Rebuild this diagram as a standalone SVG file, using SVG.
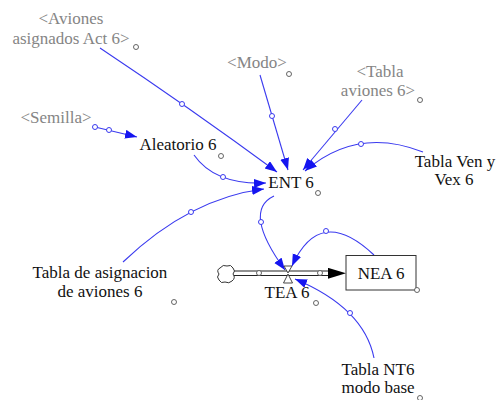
<svg xmlns="http://www.w3.org/2000/svg" width="496" height="400" viewBox="0 0 496 400">
<defs>
<style>
.t{font-size:17px;text-anchor:middle;fill:#111}
.s{fill:#858585}
.c{fill:none;stroke:#3a3aef;stroke-width:1.1}
.h{fill:#fff;stroke:#555;stroke-width:0.9}
.hb{fill:#fff;stroke:#3a3aef;stroke-width:1}
</style>
<marker id="a" markerUnits="userSpaceOnUse" markerWidth="13" markerHeight="10" refX="12" refY="4.5" orient="auto">
<path d="M0,0 L12,4.5 L0,9 z" fill="#1515f0"/>
</marker>
<marker id="fa" markerUnits="userSpaceOnUse" markerWidth="19" markerHeight="12" refX="18" refY="5.5" orient="auto">
<path d="M0,0 L18,5.5 L0,11 z" fill="#000"/>
</marker>
</defs>
<rect width="496" height="400" fill="#fff"/>

<g id="connectors">
<path class="c" d="M100,48 Q190,108 277,172" marker-end="url(#a)"/>
<circle class="hb" cx="182" cy="104" r="2.5"/>
<path class="c" d="M260,75 L288,170" marker-end="url(#a)"/>
<circle class="hb" cx="272" cy="116" r="2.5"/>
<path class="c" d="M362,100 L303,170" marker-end="url(#a)"/>
<circle class="hb" cx="335" cy="129" r="2.5"/>
<path class="c" d="M423,152 Q357,126 305,171" marker-end="url(#a)"/>
<circle class="hb" cx="361" cy="144" r="2.5"/>
<path class="c" d="M95,127 L137,137" marker-end="url(#a)"/>
<circle class="hb" cx="95" cy="127" r="2.5"/>
<circle class="hb" cx="109" cy="130" r="2.5"/>
<path class="c" d="M194,155 Q215,185 266,183" marker-end="url(#a)"/>
<circle class="hb" cx="223" cy="177" r="2.5"/>
<path class="c" d="M123,262 Q190,198 264,189" marker-end="url(#a)"/>
<circle class="hb" cx="191" cy="212" r="2.5"/>
<path class="c" d="M274,196 Q242,211 285,270" marker-end="url(#a)"/>
<circle class="hb" cx="261" cy="222" r="2.5"/>
<path class="c" d="M374,255 Q320,204 292,266" marker-end="url(#a)"/>
<circle class="hb" cx="326" cy="231" r="2.5"/>
<path class="c" d="M374,358 Q364,308 295,279" marker-end="url(#a)"/>
<circle class="hb" cx="350" cy="313" r="2.5"/>
</g>

<g font-family="Liberation Serif, 'Times New Roman', 'DejaVu Serif', serif">
<g id="flow-TEA6">
<path d="M233,271 H329 M233,275.5 H329" stroke="#222" stroke-width="1.2" fill="none"/>
<path d="M320,273.3 L346,273.3" stroke="none" fill="none" marker-end="url(#fa)"/>
<circle class="h" cx="259" cy="273" r="2.5"/>
<circle class="h" cx="320" cy="273" r="2.5"/>
<path d="M284,266 L292,266 L288,273 z" fill="#fff" stroke="#333" stroke-width="0.9"/>
<path d="M288,274 L283.5,283 L292.5,283 z" fill="#fff" stroke="#333" stroke-width="0.9"/>
<text class="t" x="287" y="298">TEA 6</text>
<circle class="h" cx="316" cy="303" r="2.5"/>
</g>

<g id="cloud">
<path d="M220,268 q3,-4 7,-2 q4,-2 6,2 q3,3 0,6 q3,4 -1,7 q-3,3 -7,1 q-4,2 -6,-2 q-3,-3 0,-6 q-3,-4 1,-6 z" fill="#fff" stroke="#333" stroke-width="1"/>
</g>

<g id="NEA6">
<rect x="346" y="255.5" width="70" height="34.5" fill="#fff" stroke="#333" stroke-width="1"/>
<text class="t" x="381" y="279">NEA 6</text>
<circle class="h" cx="417" cy="290" r="2.5"/>
</g>

<g id="AvionesAsignados">
<text class="t s" x="71" y="24">&lt;Aviones</text>
<text class="t s" x="71" y="44">asignados Act 6&gt;</text>
<circle class="h" cx="136" cy="47" r="2.5"/>
</g>

<g id="Modo">
<text class="t s" x="257" y="68">&lt;Modo&gt;</text>
<circle class="h" cx="289" cy="74" r="2.5"/>
</g>

<g id="TablaAviones">
<text class="t s" x="380" y="77">&lt;Tabla</text>
<text class="t s" x="378" y="96">aviones 6&gt;</text>
<circle class="h" cx="420" cy="100" r="2.5"/>
</g>

<g id="Semilla">
<text class="t s" x="56" y="123">&lt;Semilla&gt;</text>
</g>

<g id="Aleatorio6">
<text class="t" x="178" y="150">Aleatorio 6</text>
<circle class="h" cx="221" cy="156" r="2.5"/>
</g>

<g id="ENT6">
<text class="t" x="291" y="188">ENT 6</text>
<circle class="h" cx="318" cy="193" r="2.5"/>
</g>

<g id="TablaVen">
<text class="t" x="455" y="167">Tabla Ven y</text>
<text class="t" x="454" y="185">Vex 6</text>
</g>

<g id="TablaAsignacion">
<text class="t" x="100" y="278">Tabla de asignacion</text>
<text class="t" x="100" y="297">de aviones 6</text>
<circle class="h" cx="174" cy="302" r="2.5"/>
</g>

<g id="TablaNT6">
<text class="t" x="378" y="375">Tabla NT6</text>
<text class="t" x="378" y="393">modo base</text>
<circle class="h" cx="420" cy="398" r="2.5"/>
</g>
</g>
</svg>
